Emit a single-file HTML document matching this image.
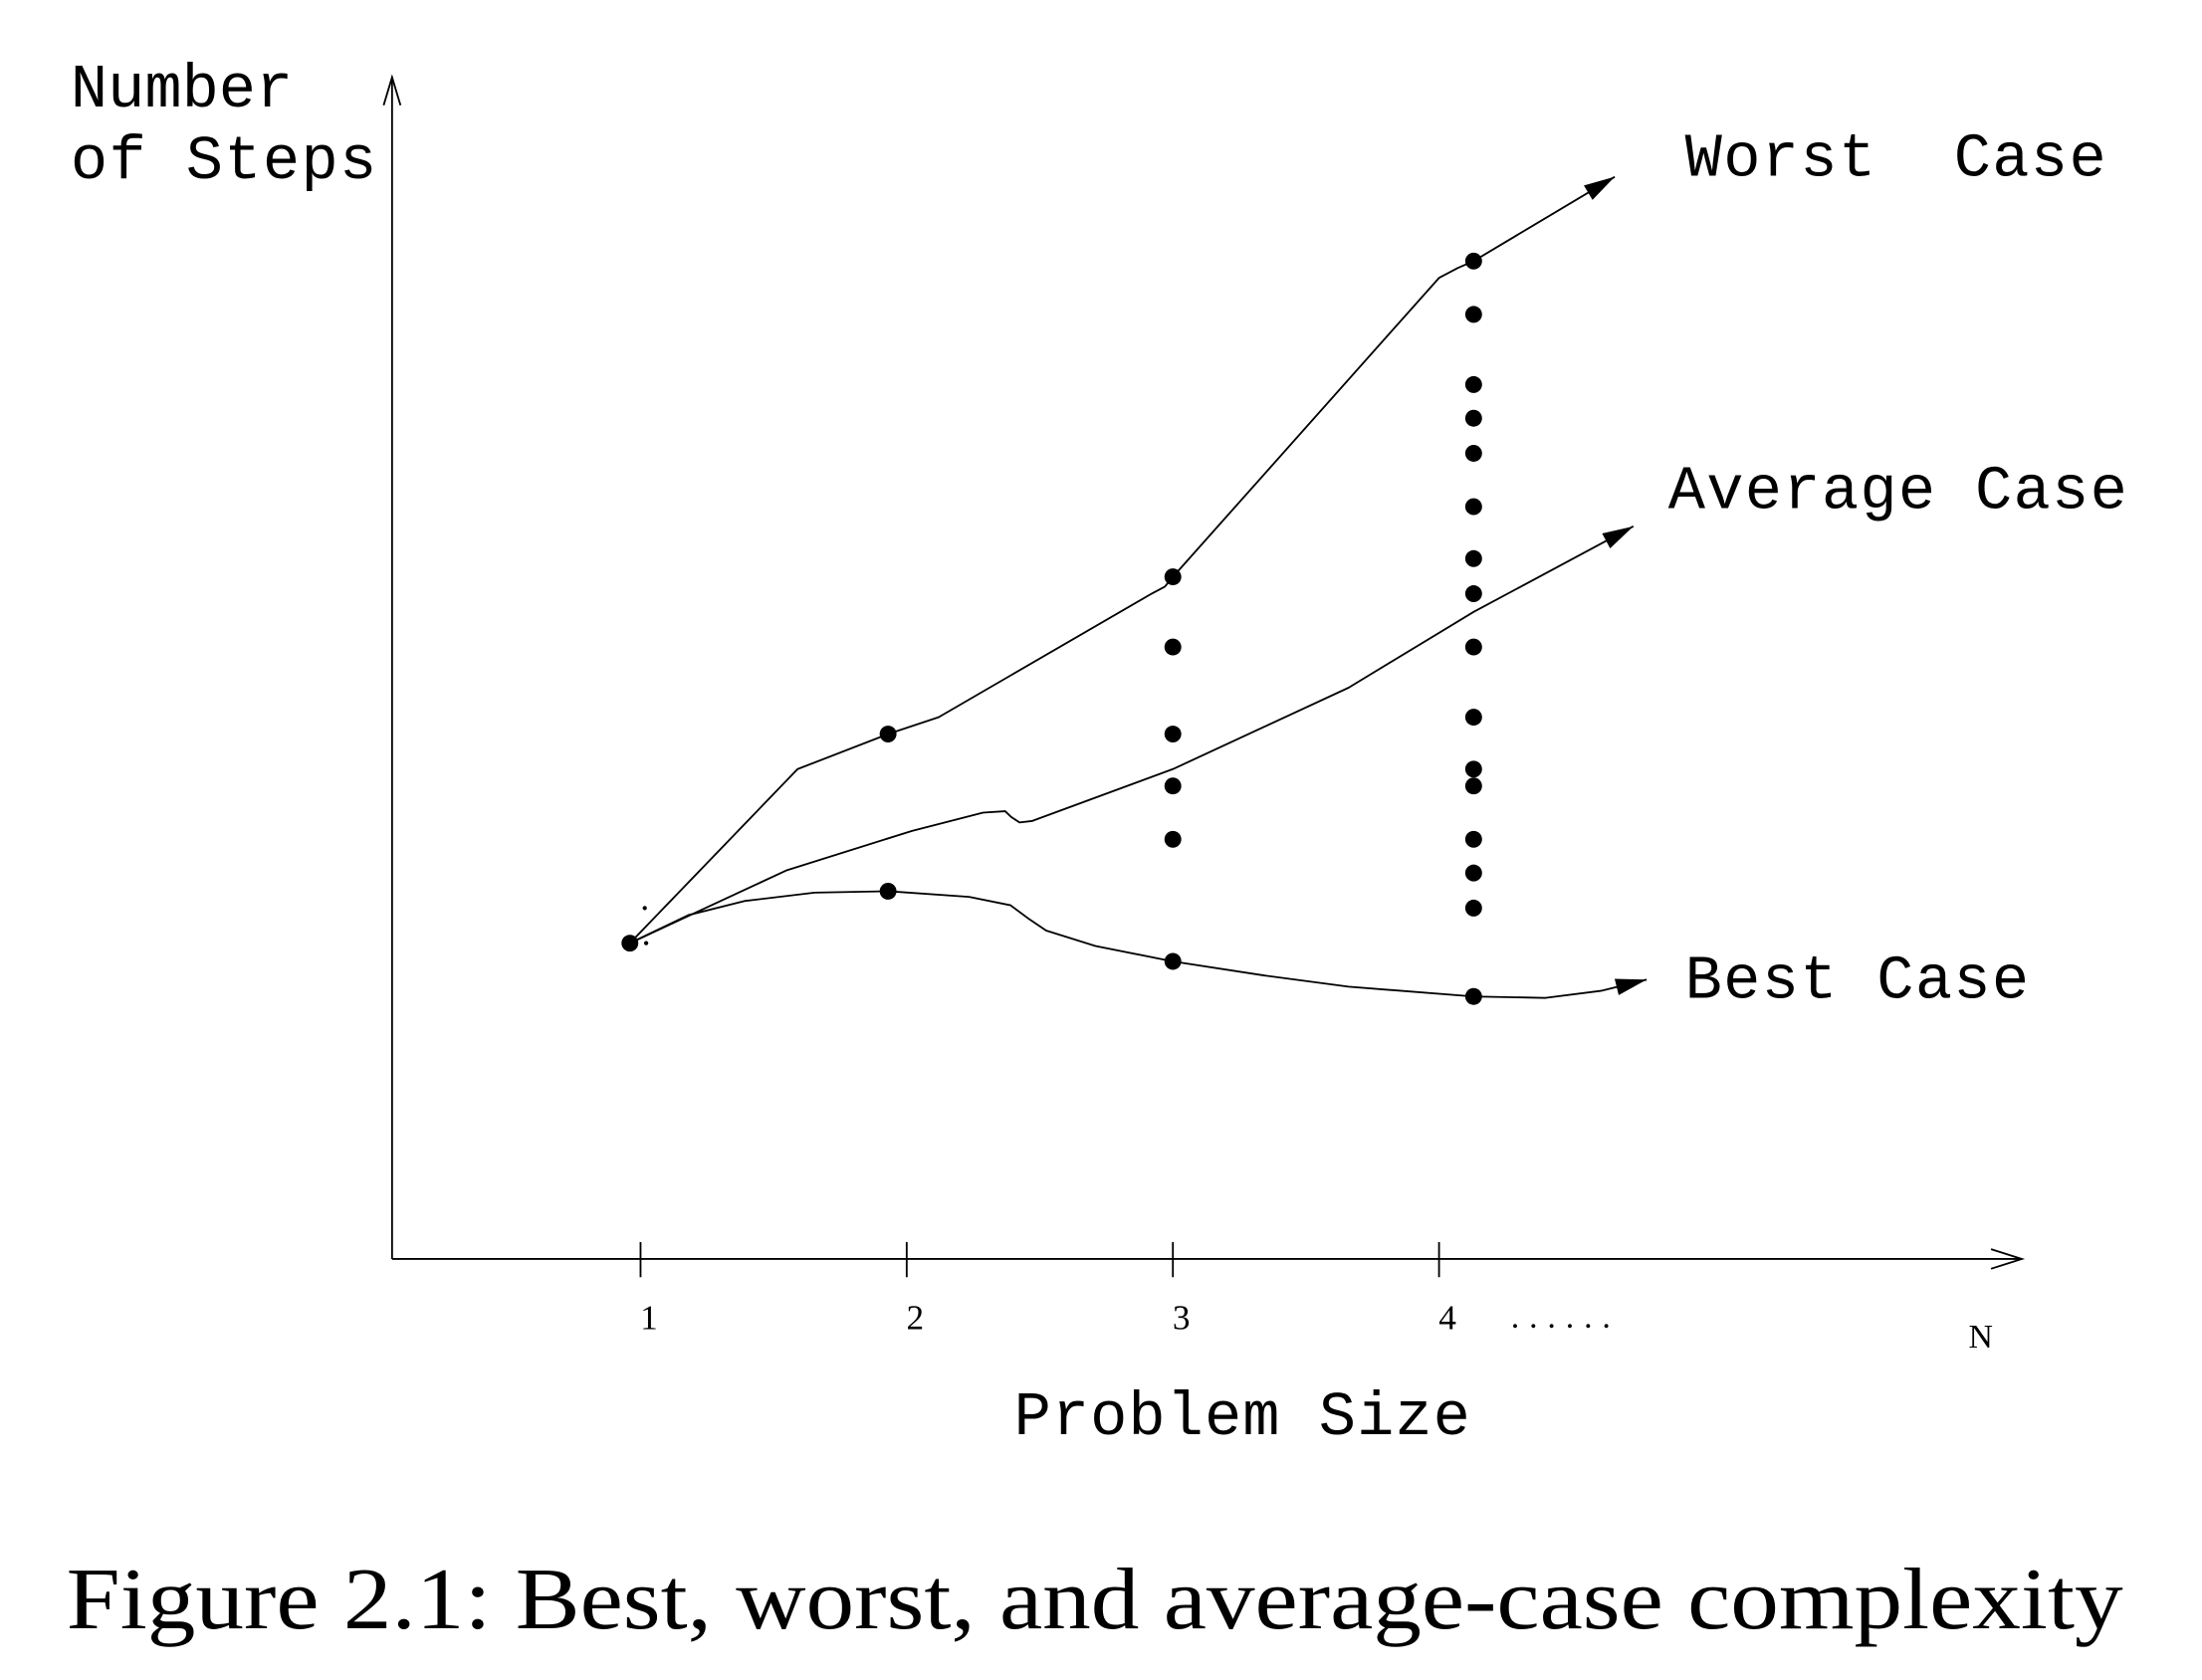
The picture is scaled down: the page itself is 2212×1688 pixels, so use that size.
<!DOCTYPE html>
<html><head><meta charset="utf-8"><style>
html,body{margin:0;padding:0;background:#fff}
svg{display:block}
.mono{font-family:"Liberation Mono",monospace;font-size:44px;fill:#000}
.ser{font-family:"Liberation Serif",serif;fill:#000}
</style></head><body>
<svg id="chart" width="2212" height="1688" viewBox="0 0 1568 1197" xmlns="http://www.w3.org/2000/svg">
<g id="axes" stroke="#000" stroke-width="1.3" fill="none">
<line x1="279" y1="897" x2="279" y2="55"/>
<polyline points="273,75 279,55 285,75"/>
<line x1="279" y1="897" x2="1440" y2="897"/>
<polyline points="1418,890 1440,897 1418,904"/>
</g>
<g id="ticks"></g>
<text class="ser" x="1076" y="946" font-size="24" letter-spacing="7">......</text>
<text class="ser" x="1402" y="960" font-size="24">N</text>
<text class="mono" x="50" y="76">Number</text>
<text class="mono" x="50" y="127" textLength="218">of Steps</text>
<text class="mono" x="722" y="1022" textLength="325">Problem Size</text>
<text class="mono" x="1200" y="125" textLength="300" xml:space="preserve">Worst  Case</text>
<text class="mono" x="1188" y="362" textLength="327">Average Case</text>
<text class="mono" x="1200" y="711" textLength="245">Best Case</text>
<g id="curves"></g>
<g id="dots"></g>
<circle cx="459" cy="647" r="1.5" fill="#000"/>
<circle cx="460" cy="672" r="1.5" fill="#000"/>
<text class="ser" x="47" y="1160" font-size="62" textLength="1465" lengthAdjust="spacingAndGlyphs">Figure 2.1: Best, worst, and average-case complexity</text>
</svg>
<script>
const tickValues = [1, 2, 3, 4];
const tickLabels = ["1", "2", "3", "4"];
const dotN = [0.96, 1.93, 1.93, 3, 3, 3, 3, 3, 3, 4.13, 4.13, 4.13, 4.13, 4.13, 4.13, 4.13, 4.13, 4.13, 4.13, 4.13, 4.13, 4.13, 4.13, 4.13, 4.13];
const dotSteps = [22.5, 37.4, 26.2, 48.6, 43.6, 37.4, 33.7, 29.9, 21.2, 71.1, 67.3, 62.3, 59.9, 57.4, 53.6, 49.9, 47.4, 43.6, 38.6, 34.9, 33.7, 29.9, 27.5, 25.0, 18.7];
const worstN = [0.96, 1.59, 1.93, 2.12, 2.92, 2.97, 3, 4.0, 4.07, 4.13, 4.66];
const worstSteps = [22.5, 34.9, 37.4, 38.6, 47.4, 47.9, 48.6, 69.9, 70.6, 71.1, 77.1];
const avgN = [0.96, 1.232, 1.55, 2.02, 2.287, 2.37, 2.392, 2.424, 2.47, 3, 3.66, 4.13, 4.73];
const avgSteps = [22.5, 24.9, 27.7, 30.5, 31.8, 31.9, 31.5, 31.1, 31.2, 34.9, 40.7, 46.1, 52.2];
const bestN = [0.96, 1.18, 1.39, 1.654, 1.93, 2.234, 2.39, 2.461, 2.524, 2.709, 3, 3.342, 3.66, 4.13, 4.40, 4.608, 4.78];
const bestSteps = [22.5, 24.5, 25.5, 26.1, 26.2, 25.8, 25.2, 24.2, 23.4, 22.3, 21.2, 20.2, 19.4, 18.7, 18.6, 19.1, 19.9];

const NS = "http://www.w3.org/2000/svg";
function xs(n){ return 456 + (n - 1) * 189.6; }
function ys(v){ return 897 - v * 10; }
function mk(tag, attrs, parent){ const e = document.createElementNS(NS, tag); for (const k in attrs) e.setAttribute(k, attrs[k]); parent.appendChild(e); return e; }

const ticks = document.getElementById('ticks');
tickValues.forEach((t, i) => {
  const l = mk('line', {x1: xs(t), x2: xs(t), y1: 885, y2: 910, stroke: '#000', 'stroke-width': 1.3}, ticks);
  
  
  const tx = mk('text', {x: xs(t) + 6, y: 947, 'font-size': 25, 'text-anchor': 'middle', class: 'ser'}, ticks);
  tx.textContent = tickLabels[i];
  
  
});

const curves = document.getElementById('curves');
[[worstN, worstSteps, 'worst-case-curve'], [avgN, avgSteps, 'average-case-curve'], [bestN, bestSteps, 'best-case-curve']].forEach(c => {
  const pts = c[0].map((n, i) => [xs(n), ys(c[1][i])]);
  const p = mk('polyline', {points: pts.map(q => q[0] + ',' + q[1]).join(' '), fill: 'none', stroke: '#000', 'stroke-width': 1.3, 'stroke-linejoin': 'round'}, curves);
  
  
  const a = pts[pts.length - 1], b = pts[pts.length - 2];
  const ang = Math.atan2(a[1] - b[1], a[0] - b[0]);
  const L = 22, W = 6;
  const bx = a[0] - L * Math.cos(ang), by = a[1] - L * Math.sin(ang);
  const q = mk('polygon', {points: a[0] + ',' + a[1] + ' ' + (bx - W * Math.sin(ang)) + ',' + (by + W * Math.cos(ang)) + ' ' + (bx + W * Math.sin(ang)) + ',' + (by - W * Math.cos(ang)), fill: '#000'}, curves);
  
  
});

const dots = document.getElementById('dots');
dotN.forEach((n, i) => {
  const d = mk('circle', {cx: xs(n), cy: ys(dotSteps[i]), r: 6, fill: '#000'}, dots);
  
  
});
</script>
</body></html>
